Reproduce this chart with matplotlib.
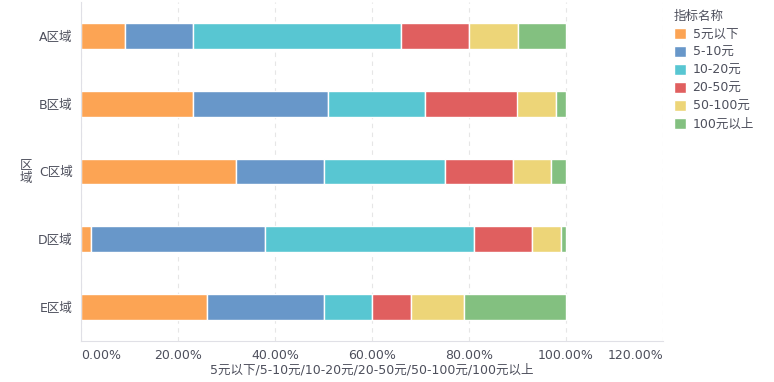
import numpy as np
import matplotlib.pyplot as plt
from matplotlib.ticker import FuncFormatter

plt.rcParams['font.family'] = ['DejaVu Sans', 'Noto Sans CJK SC']

regions = ['A区域', 'B区域', 'C区域', 'D区域', 'E区域']
series = ['5元以下', '5-10元', '10-20元', '20-50元', '50-100元', '100元以上']
colors = ['#fca454', '#6897c9', '#58c6d2', '#e05f5f', '#edd578', '#83c080']

# 各区域占比 (%)
lt5 = [9, 23, 32, 2, 26]
r5_10 = [14, 28, 18, 36, 24]
r10_20 = [43, 20, 25, 43, 10]
r20_50 = [14, 19, 14, 12, 8]
r50_100 = [10, 8, 8, 6, 11]
gt100 = [10, 2, 3, 1, 21]
values = [lt5, r5_10, r10_20, r20_50, r50_100, gt100]

txt = '#4d4f5c'
fig = plt.figure(figsize=(7.74, 3.82), dpi=100)
ax = fig.add_axes([81 / 774, 41 / 382, 582 / 774, 339 / 382])

y = np.arange(len(regions))
left = np.zeros(len(regions))
for name, vals, c in zip(series, values, colors):
    v = np.array(vals, dtype=float) / 100
    ax.barh(y, v, left=left, height=0.38, color=c, edgecolor='white',
            linewidth=1, label=name)
    left += v

ax.set_ylim(4.5, -0.5)
ax.set_xlim(0, 1.2)
ax.set_yticks(y)
ax.set_yticklabels(regions, fontsize=9, color=txt)
ax.set_xticks(np.arange(0, 1.21, 0.2))
ax.xaxis.set_major_formatter(FuncFormatter(lambda v, p: f'{v * 100:.2f}%'))
for lab in ax.get_xticklabels():
    lab.set_fontsize(9)
    lab.set_color(txt)
ax.tick_params(length=0, pad=6)
ax.get_xticklabels()[0].set_horizontalalignment('left')
ax.get_xticklabels()[-1].set_horizontalalignment('right')

ax.grid(axis='x', color='#e6e6e6', linestyle=(0, (4, 4)), linewidth=0.8)
ax.set_axisbelow(True)
for s in ['top', 'right']:
    ax.spines[s].set_visible(False)
for s in ['left', 'bottom']:
    ax.spines[s].set_color('#e0e0e6')

ax.set_xlabel('5元以下/5-10元/10-20元/20-50元/50-100元/100元以上',
              fontsize=9, color=txt, labelpad=1)
fig.text(26 / 774, 1 - 172 / 382, '区\n域', fontsize=9, color=txt,
         ha='center', va='center', linespacing=1.0)

leg = ax.legend(loc='upper left', bbox_to_anchor=(665 / 774, 1 - 1 / 382),
                bbox_transform=fig.transFigure, frameon=False,
                title='指标名称', fontsize=9, title_fontsize=9,
                handlelength=1.0, handleheight=1.0, handletextpad=0.5,
                labelspacing=0.4, alignment='left', borderaxespad=0.3)
for t in leg.get_texts():
    t.set_color(txt)
leg.get_title().set_color(txt)

fig.savefig('out.png', dpi=100)
